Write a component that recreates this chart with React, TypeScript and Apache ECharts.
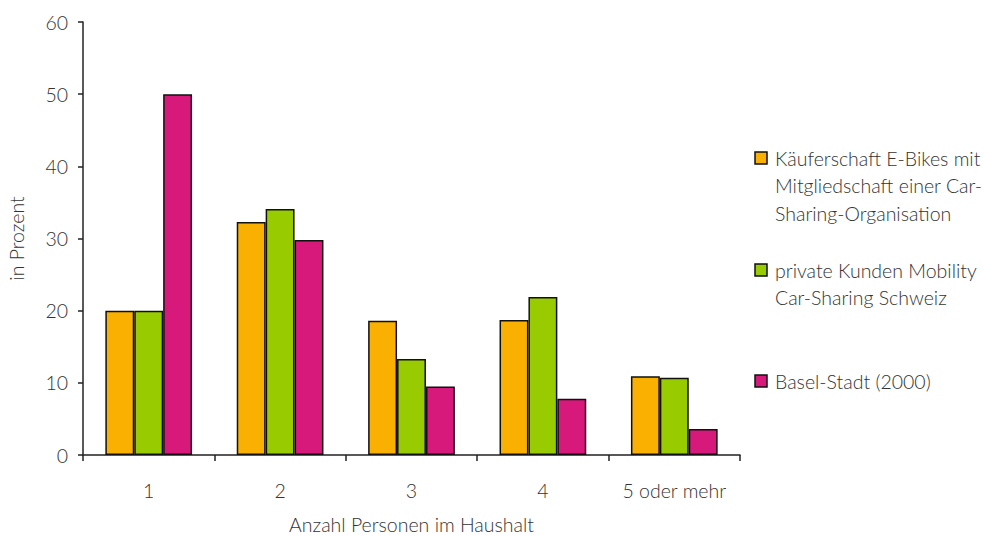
import React, { useEffect, useRef } from "react";
import * as echarts from "echarts";

const categories = ["1", "2", "3", "4", "5 oder mehr"];
const seriesNames = [
  "Käuferschaft E-Bikes mit\nMitgliedschaft einer Car-\nSharing-Organisation",
  "private Kunden Mobility\nCar-Sharing Schweiz",
  "Basel-Stadt (2000)",
];
const eBikeBuyers = [20, 32.3, 18.6, 18.7, 10.9];
const mobilityCustomers = [20, 34.1, 13.3, 21.9, 10.7];
const baselStadt = [50, 29.8, 9.5, 7.8, 3.6];
const colors = ["#F9B000", "#99CC00", "#D6197A"];
const yTicks = { min: 0, max: 60, interval: 10 };

const FONT = "Lato, 'Open Sans', sans-serif";
const TEXT = "#333333";
const FS = 19.5;

export default function App() {
  const ref = useRef<HTMLDivElement>(null);

  useEffect(() => {
    if (!ref.current) return;
    const chart = echarts.init(ref.current, undefined, { renderer: "svg" });
    const values = [eBikeBuyers, mobilityCustomers, baselStadt];
    const legendTops = [158, 270, 381];

    const legendGraphics = seriesNames.flatMap((name, i) => [
      {
        type: "rect",
        shape: { x: 755, y: legendTops[i] - 6, width: 12, height: 12 },
        style: { fill: colors[i], stroke: "#111", lineWidth: 1.5 },
      },
      {
        type: "text",
        x: 775,
        y: legendTops[i] - 13.75,
        style: {
          text: name,
          fill: TEXT,
          font: `300 ${FS}px ${FONT}`,
          lineHeight: 27.5,
          textVerticalAlign: "top",
        },
      },
    ]);

    chart.setOption({
      animation: false,
      backgroundColor: "#ffffff",
      grid: { left: 83, right: 244, top: 22, bottom: 80, outerBoundsMode: "none" },
      xAxis: {
        type: "category",
        data: categories,
        boundaryGap: true,
        axisLine: { lineStyle: { color: "#222", width: 1.5 } },
        axisTick: { show: true, length: 6, interval: 0, lineStyle: { color: "#222", width: 1.5 } },
        axisLabel: { color: TEXT, fontFamily: FONT, fontWeight: 300, fontSize: FS, margin: 25, interval: 0 },
        name: "Anzahl Personen im Haushalt",
        nameLocation: "middle",
        nameGap: 59,
        nameTextStyle: { color: TEXT, fontFamily: FONT, fontWeight: 300, fontSize: FS },
      },
      yAxis: {
        type: "value",
        min: yTicks.min,
        max: yTicks.max,
        interval: yTicks.interval,
        splitLine: { show: false },
        axisLine: { show: true, lineStyle: { color: "#222", width: 1.5 } },
        axisTick: { show: true, inside: false, length: 5, lineStyle: { color: "#222", width: 1.5 } },
        axisLabel: { color: TEXT, fontFamily: FONT, fontWeight: 300, fontSize: FS, margin: 15 },
        name: "in Prozent",
        nameLocation: "middle",
        nameGap: 57,
        nameRotate: 90,
        nameTextStyle: { color: TEXT, fontFamily: FONT, fontWeight: 300, fontSize: FS },
      },
      series: values.map((data, i) => ({
        type: "bar",
        name: seriesNames[i],
        data,
        barGap: "0%",
        barCategoryGap: "34%",
        itemStyle: { color: colors[i], borderColor: "#111", borderWidth: 1.5 },
      })),
      graphic: legendGraphics,
    });

    return () => chart.dispose();
  }, []);

  return (
    <div
      ref={ref}
      style={{ position: "fixed", left: 0, top: 0, width: 984, height: 535 }}
    />
  );
}
